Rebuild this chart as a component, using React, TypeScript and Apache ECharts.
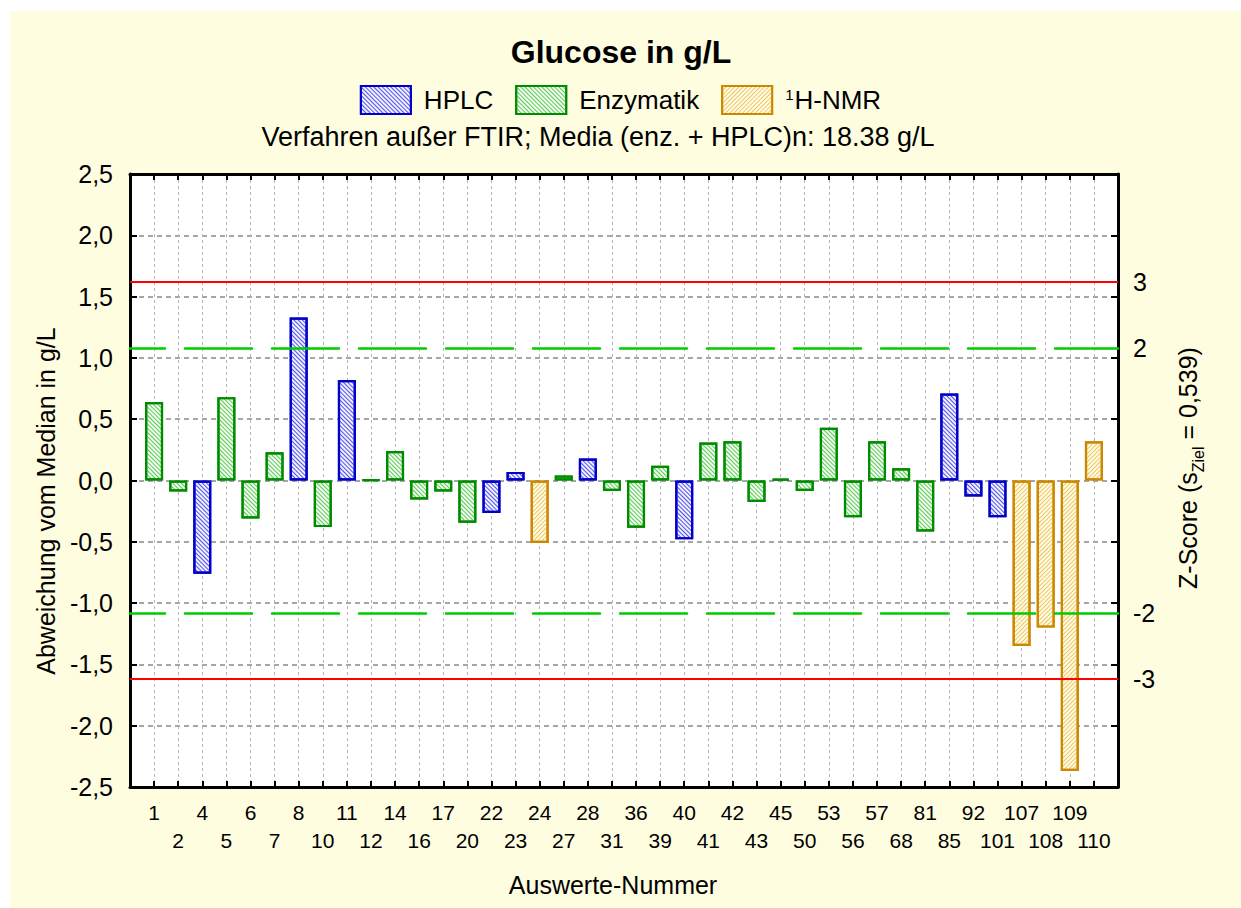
import React, { useEffect, useRef } from 'react';
import * as echarts from 'echarts';

// ---- data ----
const categories = ['1', '2', '4', '5', '6', '7', '8', '10', '11', '12', '14', '16', '17', '20', '22', '23', '24', '27', '28', '31', '36', '39', '40', '41', '42', '43', '45', '50', '53', '56', '57', '68', '81', '85', '92', '101', '107', '108', '109', '110'];
const methods = ['E', 'E', 'H', 'E', 'E', 'E', 'H', 'E', 'H', 'E', 'E', 'E', 'E', 'E', 'H', 'H', 'N', 'E', 'H', 'E', 'E', 'E', 'H', 'E', 'E', 'E', 'E', 'E', 'E', 'E', 'E', 'E', 'E', 'H', 'H', 'H', 'N', 'N', 'N', 'N'];
const deviations = [0.64, -0.09, -0.76, 0.68, -0.31, 0.23, 1.33, -0.38, 0.82, 0.005, 0.24, -0.155, -0.09, -0.345, -0.265, 0.07, -0.51, 0.04, 0.18, -0.085, -0.385, 0.12, -0.48, 0.31, 0.32, -0.175, 0.015, -0.085, 0.43, -0.30, 0.32, 0.10, -0.415, 0.71, -0.13, -0.30, -1.35, -1.20, -2.37, 0.32];
const sZiel = 0.539;
const zLimits = [3, 2, -2, -3];
const yTicks = [-2.5, -2, -1.5, -1, -0.5, 0, 0.5, 1, 1.5, 2, 2.5];
const seriesDefs = [
  { key: 'H', name: 'HPLC', border: '#0000c8', fill: '#f0f0ff', hatch: '#5252e8', rot: Math.PI / 4 },
  { key: 'E', name: 'Enzymatik', border: '#008c00', fill: '#f2fdee', hatch: '#5cc85c', rot: Math.PI / 4 },
  { key: 'N', name: 'H-NMR', border: '#cc8800', fill: '#fffce8', hatch: '#ecc660', rot: -Math.PI / 4 },
];

const FONT = '"Liberation Sans", Arial, Helvetica, sans-serif';
const axisCats = ['', ...categories, ''];

function buildOption() {
  const series: any[] = seriesDefs.map((d, si) => ({
    type: 'bar',
    name: d.name,
    barWidth: 18,
    barGap: '-100%',
    data: axisCats.map((c, i) => {
      if (i === 0 || i === axisCats.length - 1) return null;
      return methods[i - 1] === d.key ? deviations[i - 1] : null;
    }),
    itemStyle: {
      color: d.fill,
      borderColor: d.border,
      borderWidth: 2.2,
      decal: {
        symbol: 'rect',
        symbolSize: 1,
        dashArrayX: [1, 0],
        dashArrayY: [1, 2],
        rotation: d.rot,
        color: d.hatch,
      },
    },
    emphasis: { disabled: true },
    markLine: si === 0 ? {
      silent: true,
      symbol: ['none', 'none'],
      label: { show: false },
      data: zLimits.map((z) => ({
        yAxis: z * sZiel,
        lineStyle: Math.abs(z) === 3
          ? { color: '#ff0000', width: 2, type: 'solid' }
          : { color: '#00cc00', width: 2.5, type: [67, 20], dashOffset: 32, cap: 'round' },
      })),
    } : undefined,
  }));

  return {
    animation: false,
    backgroundColor: 'transparent',
    textStyle: { fontFamily: FONT },
    legend: {
      top: 80,
      left: 'center',
      icon: 'rect',
      itemWidth: 50,
      itemHeight: 28,
      itemGap: 22,
      formatter: (name: string) => (name === 'H-NMR' ? '{s|1}{t|H-NMR}' : '{t|' + name + '}'),
      textStyle: {
        fontSize: 26, color: '#000', fontFamily: FONT, padding: [0, 0, 0, 8],
        rich: {
          t: { fontSize: 26, fontFamily: FONT, color: '#000', lineHeight: 30, verticalAlign: 'middle' },
          s: { fontSize: 15, fontFamily: FONT, color: '#000', lineHeight: 15, verticalAlign: 'top', padding: [2, 1, 0, 0] },
        },
      },
      data: seriesDefs.map((d) => d.name),
    },
    grid: {
      left: 130, top: 174, right: 123, bottom: 121,
      show: true, backgroundColor: '#ffffff', borderWidth: 0,
    },
    xAxis: [
      {
        type: 'category',
        data: axisCats,
        boundaryGap: false,
        position: 'bottom',
        axisLine: { onZero: false, lineStyle: { color: '#000', width: 3 } },
        axisTick: { show: true, inside: true, length: 6, interval: 0, lineStyle: { color: '#000', width: 2 } },
        axisLabel: {
          interval: 0,
          margin: 11,
          fontSize: 21,
          lineHeight: 28,
          color: '#000',
          fontFamily: FONT,
          formatter: (v: string, i: number) => (v === '' ? '' : ((i - 1) % 2 === 0 ? v : '\n' + v)),
        },
        splitLine: { show: true, interval: 0, lineStyle: { color: '#b4b4b4', width: 1, type: [3, 3] } },
      },
      {
        type: 'category',
        data: axisCats,
        boundaryGap: false,
        position: 'top',
        axisLine: { onZero: false, lineStyle: { color: '#000', width: 3 } },
        axisTick: { show: true, inside: true, length: 6, interval: 0, lineStyle: { color: '#000', width: 2 } },
        axisLabel: { show: false },
        splitLine: { show: false },
      },
    ],
    yAxis: [
      {
        type: 'value',
        min: -2.5,
        max: 2.5,
        interval: 0.5,
        position: 'left',
        axisLine: { show: true, onZero: false, lineStyle: { color: '#000', width: 3 } },
        axisTick: { show: true, inside: true, length: 7, lineStyle: { color: '#000', width: 2 } },
        axisLabel: {
          margin: 17,
          fontSize: 25,
          color: '#000',
          fontFamily: FONT,
          formatter: (v: number) => v.toFixed(1).replace('.', ','),
        },
        splitLine: { show: true, lineStyle: { color: '#a6a6a6', width: 2, type: [5, 4] } },
      },
      {
        type: 'value',
        min: -2.5,
        max: 2.5,
        interval: 0.5,
        position: 'right',
        axisLine: { show: true, onZero: false, lineStyle: { color: '#000', width: 3 } },
        axisTick: { show: true, inside: true, length: 7, customValues: yTicks, lineStyle: { color: '#000', width: 2 } },
        axisLabel: {
          margin: 15,
          fontSize: 25,
          color: '#000',
          fontFamily: FONT,
          customValues: zLimits.map((z) => z * sZiel),
          formatter: (v: number) => String(Math.round(v / sZiel)),
        },
        splitLine: { show: false },
      },
    ],
    graphic: [
      {
        type: 'text', x: 621, y: 52,
        style: { text: 'Glucose in g/L', fontSize: 32, fontWeight: 'bold', fontFamily: FONT, fill: '#000', textAlign: 'center', textVerticalAlign: 'middle' },
      },
      {
        type: 'text', x: 598, y: 137,
        style: { text: 'Verfahren au\u00dfer FTIR; Media (enz. + HPLC)n: 18.38 g/L', fontSize: 27, fontFamily: FONT, fill: '#000', textAlign: 'center', textVerticalAlign: 'middle' },
      },
      {
        type: 'text', x: 46, y: 501, rotation: Math.PI / 2,
        style: { text: 'Abweichung vom Median in g/L', fontSize: 25, fontFamily: FONT, fill: '#000', textAlign: 'center', textVerticalAlign: 'middle' },
      },
      {
        type: 'text', x: 613, y: 885,
        style: { text: 'Auswerte-Nummer', fontSize: 25, fontFamily: FONT, fill: '#000', textAlign: 'center', textVerticalAlign: 'middle' },
      },
      {
        type: 'text', x: 1188, y: 468, rotation: Math.PI / 2,
        style: {
          text: '{a|Z-Score (s}{b|Ziel}{a| = 0,539)}',
          fontFamily: FONT,
          fill: '#000',
          textAlign: 'center',
          textVerticalAlign: 'middle',
          rich: {
            a: { fontSize: 25, fontFamily: FONT, fill: '#000', lineHeight: 36, verticalAlign: 'middle' },
            b: { fontSize: 16, fontFamily: FONT, fill: '#000', lineHeight: 16, verticalAlign: 'bottom' },
          },
        },
      },
    ],
    series,
  };
}

export default function App() {
  const ref = useRef<HTMLDivElement>(null);
  useEffect(() => {
    document.body.style.margin = '0';
    const chart = echarts.init(ref.current!, null, { renderer: 'svg', width: 1241, height: 908 });
    chart.setOption(buildOption() as any);
    return () => chart.dispose();
  }, []);
  return (
    <div style={{ position: 'relative', width: 1241, height: 908, background: '#ffffff', overflow: 'hidden' }}>
      <div style={{ position: 'absolute', left: 10, top: 11, right: 0, bottom: 0, background: '#fffde0' }} />
      <div ref={ref} style={{ position: 'absolute', left: 0, top: 0, width: 1241, height: 908 }} />
    </div>
  );
}
